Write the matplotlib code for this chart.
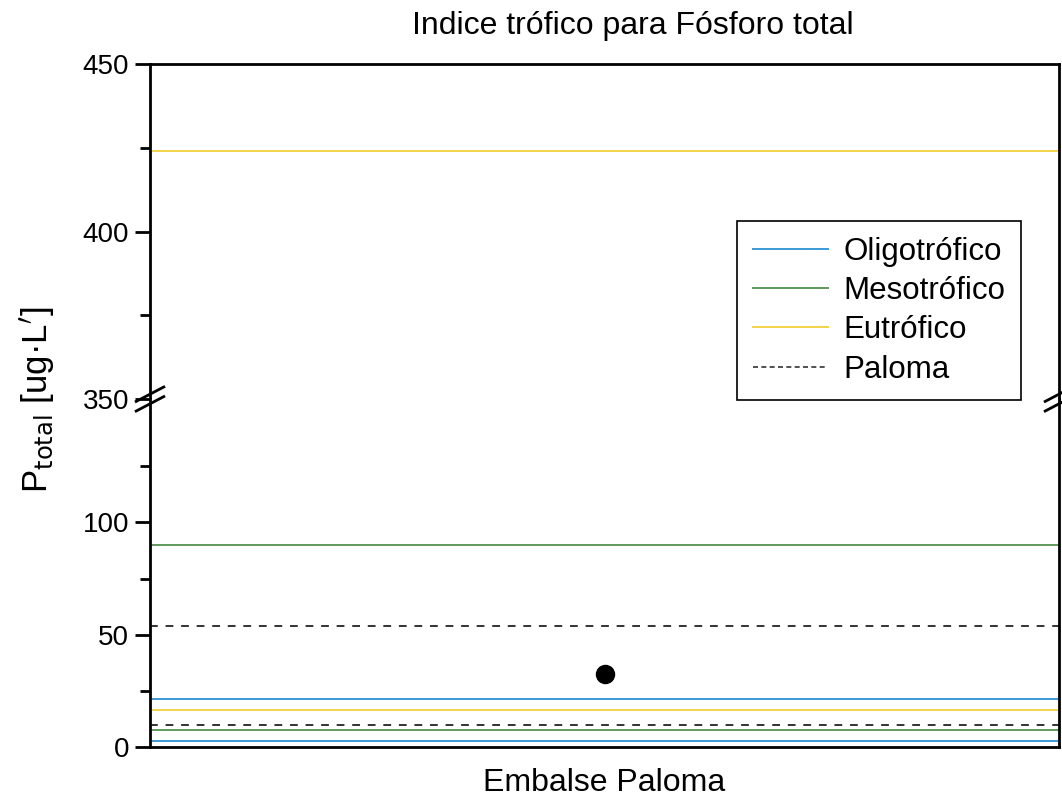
import matplotlib.pyplot as plt
from matplotlib.lines import Line2D

plt.rcParams["font.family"] = ["Liberation Sans", "DejaVu Sans"]

# trophic limits (ug/L), each drawn as a horizontal line
oligo_levels = [2.5, 21.5]
meso_levels = [7.5, 90.0]
eutro_levels = [16.5, 424.0]
paloma_levels = [10.0, 54.0]

site_names = ["Embalse Paloma"]
site_values = [32.5]

fig = plt.figure(figsize=(10.62, 8.02), dpi=100)
left, right = 150 / 1062, 1059 / 1062
y_top, y_mid, y_bot = 1 - 64 / 802, 1 - 399 / 802, 1 - 747 / 802
ax_hi = fig.add_axes([left, y_mid, right - left, y_top - y_mid])
ax_lo = fig.add_axes([left, y_bot, right - left, y_mid - y_bot])

styles = [
    ("Oligotrófico", oligo_levels, dict(color="#3b9ad6", lw=1.4)),
    ("Mesotrófico", meso_levels, dict(color="#5f9a5c", lw=1.4)),
    ("Eutrófico", eutro_levels, dict(color="#f2d34a", lw=1.4)),
    ("Paloma", paloma_levels, dict(color="#333333", lw=1.4, ls=(0, (4, 4)))),
]

for ax in (ax_hi, ax_lo):
    for name, levels, kw in styles:
        for v in levels:
            ax.axhline(v, **kw)
    ax.plot([1], site_values, "o", color="black", ms=13)
    ax.set_xlim(0, 2)
    ax.set_xticks([])
    for s in ax.spines.values():
        s.set_linewidth(2)
    ax.tick_params(axis="y", which="major", length=11, width=2, labelsize=20, pad=4)
    ax.tick_params(axis="y", which="minor", length=7, width=2)

ax_hi.set_ylim(350, 450)
ax_hi.set_yticks([350, 400, 450])
ax_hi.set_yticks([375, 425], minor=True)
ax_hi.spines["bottom"].set_visible(False)

ax_lo.set_ylim(0, 155)
ax_lo.set_yticks([0, 50, 100])
ax_lo.set_yticks([25, 75, 125], minor=True)
ax_lo.spines["top"].set_visible(False)
ax_lo.set_xlabel(site_names[0], fontsize=23, labelpad=15)

# axis break marks
for xb in (left, right):
    for dy in (-0.006, 0.006):
        fig.add_artist(Line2D([xb - 0.013, xb + 0.013], [y_mid + dy - 0.009, y_mid + dy + 0.009],
                              color="black", lw=2, transform=fig.transFigure))

fig.text(0.035, 1 - 400 / 802, r"P$_{\mathrm{total}}$ [ug·L$^{\prime}$]", rotation=90,
         fontsize=25, va="center", ha="center")
fig.text(633 / 1062, 1 - 26 / 802, "Indice trófico para Fósforo total", fontsize=23,
         ha="center", va="center")

handles = [Line2D([], [], **kw) for _, _, kw in styles]
handles[3] = Line2D([], [], color="#333333", lw=1.2, ls=(0, (3, 2)))
leg = fig.legend(handles, [s[0] for s in styles], loc="upper left",
                 bbox_to_anchor=(737 / 1062, 1 - 221 / 802),
                 fontsize=22.5, handlelength=2.4, labelspacing=0.3, handletextpad=0.5,
                 borderpad=0.5, borderaxespad=0, fancybox=False, framealpha=1)
leg.get_frame().set_edgecolor("black")
leg.get_frame().set_linewidth(1.2)

fig.savefig("out.png", dpi=100)
